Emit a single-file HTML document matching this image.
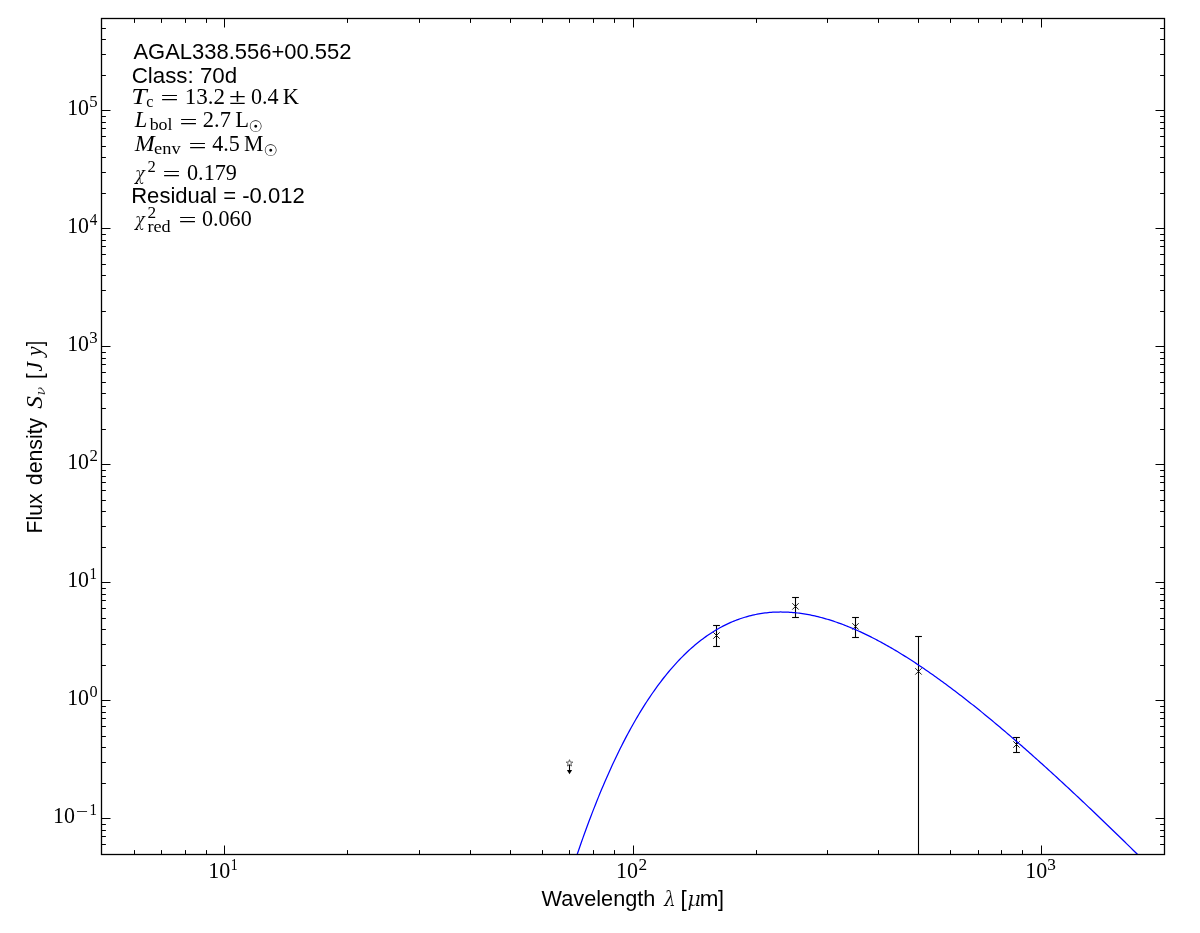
<!DOCTYPE html>
<html lang="en"><head><meta charset="utf-8"><title>AGAL338.556+00.552 SED</title>
<style>html,body{margin:0;padding:0;background:#fff}svg{display:block;will-change:transform}</style></head>
<body>
<svg width="1200" height="933" viewBox="0 0 1200 933">
<rect x="0" y="0" width="1200" height="933" fill="#fff"/>
<defs><clipPath id="ax"><rect x="101.5" y="18.5" width="1063.0" height="836.0"/></clipPath></defs>
<g stroke="#000"><line x1="716.50" y1="625.5" x2="716.50" y2="646.5" stroke-width="1.1"/><line x1="713.10" y1="625.5" x2="719.90" y2="625.5" stroke-width="1.1"/><line x1="713.10" y1="646.5" x2="719.90" y2="646.5" stroke-width="1.1"/><path d="M713.30,632.30L719.70,638.70M713.30,638.70L719.70,632.30" stroke-width="0.9" fill="none"/><line x1="795.50" y1="597.5" x2="795.50" y2="617.5" stroke-width="1.1"/><line x1="792.10" y1="597.5" x2="798.90" y2="597.5" stroke-width="1.1"/><line x1="792.10" y1="617.5" x2="798.90" y2="617.5" stroke-width="1.1"/><path d="M792.30,603.20L798.70,609.60M792.30,609.60L798.70,603.20" stroke-width="0.9" fill="none"/><line x1="855.50" y1="617.5" x2="855.50" y2="637.5" stroke-width="1.1"/><line x1="852.10" y1="617.5" x2="858.90" y2="617.5" stroke-width="1.1"/><line x1="852.10" y1="637.5" x2="858.90" y2="637.5" stroke-width="1.1"/><path d="M852.30,623.20L858.70,629.60M852.30,629.60L858.70,623.20" stroke-width="0.9" fill="none"/><line x1="918.50" y1="636.5" x2="918.50" y2="854.5" stroke-width="1.1"/><line x1="915.10" y1="636.5" x2="921.90" y2="636.5" stroke-width="1.1"/><path d="M915.30,668.20L921.70,674.60M915.30,674.60L921.70,668.20" stroke-width="0.9" fill="none"/><line x1="1016.50" y1="737.5" x2="1016.50" y2="752.5" stroke-width="1.1"/><line x1="1013.10" y1="737.5" x2="1019.90" y2="737.5" stroke-width="1.1"/><line x1="1013.10" y1="752.5" x2="1019.90" y2="752.5" stroke-width="1.1"/><path d="M1013.30,741.30L1019.70,747.70M1013.30,747.70L1019.70,741.30" stroke-width="0.9" fill="none"/></g>
<polyline clip-path="url(#ax)" points="542.37,972.95 543.93,966.92 545.48,960.97 547.04,955.09 548.60,949.27 550.15,943.53 551.71,937.86 553.27,932.26 554.83,926.72 556.38,921.26 557.94,915.86 559.50,910.52 561.05,905.25 562.61,900.05 564.17,894.91 565.72,889.84 567.28,884.83 568.84,879.88 570.40,875.00 571.95,870.18 573.51,865.41 575.07,860.71 576.62,856.07 578.18,851.49 579.74,846.97 581.29,842.51 582.85,838.10 584.41,833.76 585.97,829.47 587.52,825.23 589.08,821.06 590.64,816.93 592.19,812.87 593.75,808.86 595.31,804.90 596.86,800.99 598.42,797.14 599.98,793.35 601.54,789.60 603.09,785.91 604.65,782.26 606.21,778.67 607.76,775.13 609.32,771.64 610.88,768.20 612.43,764.80 613.99,761.46 615.55,758.17 617.11,754.92 618.66,751.72 620.22,748.56 621.78,745.46 623.33,742.40 624.89,739.38 626.45,736.41 628.00,733.49 629.56,730.61 631.12,727.77 632.68,724.98 634.23,722.23 635.79,719.52 637.35,716.86 638.90,714.24 640.46,711.66 642.02,709.12 643.57,706.63 645.13,704.17 646.69,701.76 648.25,699.38 649.80,697.04 651.36,694.75 652.92,692.49 654.47,690.27 656.03,688.09 657.59,685.95 659.14,683.84 660.70,681.78 662.26,679.75 663.82,677.75 665.37,675.79 666.93,673.87 668.49,671.99 670.04,670.14 671.60,668.32 673.16,666.54 674.71,664.79 676.27,663.08 677.83,661.40 679.39,659.76 680.94,658.14 682.50,656.57 684.06,655.02 685.61,653.50 687.17,652.02 688.73,650.57 690.28,649.15 691.84,647.76 693.40,646.41 694.96,645.08 696.51,643.78 698.07,642.52 699.63,641.28 701.18,640.08 702.74,638.90 704.30,637.75 705.85,636.63 707.41,635.54 708.97,634.48 710.53,633.44 712.08,632.43 713.64,631.45 715.20,630.50 716.75,629.57 718.31,628.68 719.87,627.80 721.42,626.96 722.98,626.14 724.54,625.34 726.10,624.57 727.65,623.83 729.21,623.11 730.77,622.41 732.32,621.74 733.88,621.10 735.44,620.48 736.99,619.88 738.55,619.31 740.11,618.76 741.67,618.23 743.22,617.73 744.78,617.24 746.34,616.79 747.89,616.35 749.45,615.93 751.01,615.54 752.56,615.17 754.12,614.82 755.68,614.50 757.24,614.19 758.79,613.90 760.35,613.64 761.91,613.39 763.46,613.17 765.02,612.97 766.58,612.78 768.13,612.62 769.69,612.47 771.25,612.35 772.81,612.24 774.36,612.15 775.92,612.09 777.48,612.04 779.03,612.01 780.59,611.99 782.15,612.00 783.70,612.02 785.26,612.06 786.82,612.12 788.37,612.19 789.93,612.29 791.49,612.40 793.05,612.52 794.60,612.67 796.16,612.83 797.72,613.00 799.27,613.19 800.83,613.40 802.39,613.63 803.94,613.87 805.50,614.12 807.06,614.39 808.62,614.68 810.17,614.98 811.73,615.29 813.29,615.62 814.84,615.97 816.40,616.33 817.96,616.70 819.51,617.09 821.07,617.49 822.63,617.91 824.19,618.34 825.74,618.78 827.30,619.24 828.86,619.71 830.41,620.19 831.97,620.69 833.53,621.19 835.08,621.72 836.64,622.25 838.20,622.80 839.76,623.36 841.31,623.93 842.87,624.51 844.43,625.10 845.98,625.71 847.54,626.33 849.10,626.96 850.65,627.60 852.21,628.25 853.77,628.92 855.33,629.59 856.88,630.28 858.44,630.98 860.00,631.68 861.55,632.40 863.11,633.13 864.67,633.87 866.22,634.62 867.78,635.38 869.34,636.15 870.90,636.93 872.45,637.71 874.01,638.51 875.57,639.32 877.12,640.14 878.68,640.97 880.24,641.80 881.79,642.65 883.35,643.50 884.91,644.37 886.47,645.24 888.02,646.12 889.58,647.01 891.14,647.91 892.69,648.81 894.25,649.73 895.81,650.65 897.36,651.59 898.92,652.53 900.48,653.47 902.04,654.43 903.59,655.39 905.15,656.36 906.71,657.34 908.26,658.33 909.82,659.32 911.38,660.33 912.93,661.34 914.49,662.35 916.05,663.37 917.61,664.40 919.16,665.44 920.72,666.49 922.28,667.54 923.83,668.60 925.39,669.66 926.95,670.73 928.50,671.81 930.06,672.89 931.62,673.98 933.18,675.08 934.73,676.19 936.29,677.29 937.85,678.41 939.40,679.53 940.96,680.66 942.52,681.79 944.07,682.93 945.63,684.08 947.19,685.23 948.75,686.38 950.30,687.55 951.86,688.71 953.42,689.89 954.97,691.07 956.53,692.25 958.09,693.44 959.64,694.63 961.20,695.83 962.76,697.04 964.32,698.25 965.87,699.46 967.43,700.68 968.99,701.91 970.54,703.14 972.10,704.37 973.66,705.61 975.21,706.85 976.77,708.10 978.33,709.35 979.89,710.61 981.44,711.87 983.00,713.14 984.56,714.41 986.11,715.68 987.67,716.96 989.23,718.24 990.78,719.53 992.34,720.82 993.90,722.12 995.46,723.42 997.01,724.72 998.57,726.03 1000.13,727.34 1001.68,728.66 1003.24,729.97 1004.80,731.30 1006.35,732.62 1007.91,733.95 1009.47,735.29 1011.03,736.63 1012.58,737.97 1014.14,739.31 1015.70,740.66 1017.25,742.01 1018.81,743.37 1020.37,744.72 1021.92,746.09 1023.48,747.45 1025.04,748.82 1026.60,750.19 1028.15,751.57 1029.71,752.94 1031.27,754.32 1032.82,755.71 1034.38,757.10 1035.94,758.49 1037.49,759.88 1039.05,761.28 1040.61,762.67 1042.17,764.08 1043.72,765.48 1045.28,766.89 1046.84,768.30 1048.39,769.71 1049.95,771.13 1051.51,772.55 1053.06,773.97 1054.62,775.39 1056.18,776.82 1057.74,778.25 1059.29,779.68 1060.85,781.11 1062.41,782.55 1063.96,783.99 1065.52,785.43 1067.08,786.88 1068.63,788.32 1070.19,789.77 1071.75,791.22 1073.30,792.68 1074.86,794.13 1076.42,795.59 1077.98,797.05 1079.53,798.52 1081.09,799.98 1082.65,801.45 1084.20,802.92 1085.76,804.39 1087.32,805.86 1088.87,807.34 1090.43,808.82 1091.99,810.30 1093.55,811.78 1095.10,813.26 1096.66,814.75 1098.22,816.24 1099.77,817.73 1101.33,819.22 1102.89,820.71 1104.44,822.21 1106.00,823.71 1107.56,825.20 1109.12,826.71 1110.67,828.21 1112.23,829.71 1113.79,831.22 1115.34,832.73 1116.90,834.24 1118.46,835.75 1120.01,837.26 1121.57,838.78 1123.13,840.30 1124.69,841.81 1126.24,843.33 1127.80,844.86 1129.36,846.38 1130.91,847.90 1132.47,849.43 1134.03,850.96 1135.58,852.49 1137.14,854.02 1138.70,855.55 1140.26,857.09 1141.81,858.62 1143.37,860.16 1144.93,861.70 1146.48,863.24 1148.04,864.78 1149.60,866.32 1151.15,867.86 1152.71,869.41 1154.27,870.96 1155.83,872.51 1157.38,874.05 1158.94,875.61 1160.50,877.16 1162.05,878.71 1163.61,880.27" fill="none" stroke="#0000ff" stroke-width="1.25" stroke-linejoin="round"/>
<line x1="569.50" y1="763.2" x2="569.50" y2="771" stroke="#000" stroke-width="1.1"/>
<polygon points="566.90,770 572.10,770 569.50,774.2" fill="#000"/>
<polygon points="569.50,759.70 570.32,762.07 572.83,762.12 570.83,763.63 571.56,766.03 569.50,764.60 567.44,766.03 568.17,763.63 566.17,762.12 568.68,762.07" fill="#fff" stroke="#5a5a5a" stroke-width="0.95"/>
<rect x="101.5" y="18.5" width="1063.0" height="836.0" fill="none" stroke="#000" stroke-width="1.3"/>
<path d="M101.50,854.5v-4.4M101.50,18.5v4.4M134.50,854.5v-4.4M134.50,18.5v4.4M161.50,854.5v-4.4M161.50,18.5v4.4M185.50,854.5v-4.4M185.50,18.5v4.4M206.50,854.5v-4.4M206.50,18.5v4.4M224.50,854.5v-9.0M224.50,18.5v9.0M347.50,854.5v-4.4M347.50,18.5v4.4M419.50,854.5v-4.4M419.50,18.5v4.4M470.50,854.5v-4.4M470.50,18.5v4.4M510.50,854.5v-4.4M510.50,18.5v4.4M542.50,854.5v-4.4M542.50,18.5v4.4M569.50,854.5v-4.4M569.50,18.5v4.4M593.50,854.5v-4.4M593.50,18.5v4.4M614.50,854.5v-4.4M614.50,18.5v4.4M633.50,854.5v-9.0M633.50,18.5v9.0M756.50,854.5v-4.4M756.50,18.5v4.4M827.50,854.5v-4.4M827.50,18.5v4.4M878.50,854.5v-4.4M878.50,18.5v4.4M918.50,854.5v-4.4M918.50,18.5v4.4M950.50,854.5v-4.4M950.50,18.5v4.4M978.50,854.5v-4.4M978.50,18.5v4.4M1001.50,854.5v-4.4M1001.50,18.5v4.4M1022.50,854.5v-4.4M1022.50,18.5v4.4M1041.50,854.5v-9.0M1041.50,18.5v9.0M1164.50,854.5v-4.4M1164.50,18.5v4.4M101.5,854.50h4.4M1164.5,854.50h-4.4M101.5,844.50h4.4M1164.5,844.50h-4.4M101.5,836.50h4.4M1164.5,836.50h-4.4M101.5,830.50h4.4M1164.5,830.50h-4.4M101.5,824.50h4.4M1164.5,824.50h-4.4M101.5,818.50h9.0M1164.5,818.50h-9.0M101.5,783.50h4.4M1164.5,783.50h-4.4M101.5,762.50h4.4M1164.5,762.50h-4.4M101.5,747.50h4.4M1164.5,747.50h-4.4M101.5,736.50h4.4M1164.5,736.50h-4.4M101.5,726.50h4.4M1164.5,726.50h-4.4M101.5,718.50h4.4M1164.5,718.50h-4.4M101.5,712.50h4.4M1164.5,712.50h-4.4M101.5,706.50h4.4M1164.5,706.50h-4.4M101.5,700.50h9.0M1164.5,700.50h-9.0M101.5,665.50h4.4M1164.5,665.50h-4.4M101.5,644.50h4.4M1164.5,644.50h-4.4M101.5,629.50h4.4M1164.5,629.50h-4.4M101.5,618.50h4.4M1164.5,618.50h-4.4M101.5,608.50h4.4M1164.5,608.50h-4.4M101.5,600.50h4.4M1164.5,600.50h-4.4M101.5,594.50h4.4M1164.5,594.50h-4.4M101.5,588.50h4.4M1164.5,588.50h-4.4M101.5,582.50h9.0M1164.5,582.50h-9.0M101.5,547.50h4.4M1164.5,547.50h-4.4M101.5,526.50h4.4M1164.5,526.50h-4.4M101.5,511.50h4.4M1164.5,511.50h-4.4M101.5,500.50h4.4M1164.5,500.50h-4.4M101.5,490.50h4.4M1164.5,490.50h-4.4M101.5,482.50h4.4M1164.5,482.50h-4.4M101.5,476.50h4.4M1164.5,476.50h-4.4M101.5,470.50h4.4M1164.5,470.50h-4.4M101.5,464.50h9.0M1164.5,464.50h-9.0M101.5,429.50h4.4M1164.5,429.50h-4.4M101.5,408.50h4.4M1164.5,408.50h-4.4M101.5,393.50h4.4M1164.5,393.50h-4.4M101.5,382.50h4.4M1164.5,382.50h-4.4M101.5,372.50h4.4M1164.5,372.50h-4.4M101.5,364.50h4.4M1164.5,364.50h-4.4M101.5,358.50h4.4M1164.5,358.50h-4.4M101.5,352.50h4.4M1164.5,352.50h-4.4M101.5,346.50h9.0M1164.5,346.50h-9.0M101.5,311.50h4.4M1164.5,311.50h-4.4M101.5,290.50h4.4M1164.5,290.50h-4.4M101.5,275.50h4.4M1164.5,275.50h-4.4M101.5,264.50h4.4M1164.5,264.50h-4.4M101.5,254.50h4.4M1164.5,254.50h-4.4M101.5,246.50h4.4M1164.5,246.50h-4.4M101.5,240.50h4.4M1164.5,240.50h-4.4M101.5,234.50h4.4M1164.5,234.50h-4.4M101.5,228.50h9.0M1164.5,228.50h-9.0M101.5,193.50h4.4M1164.5,193.50h-4.4M101.5,172.50h4.4M1164.5,172.50h-4.4M101.5,157.50h4.4M1164.5,157.50h-4.4M101.5,146.50h4.4M1164.5,146.50h-4.4M101.5,136.50h4.4M1164.5,136.50h-4.4M101.5,128.50h4.4M1164.5,128.50h-4.4M101.5,122.50h4.4M1164.5,122.50h-4.4M101.5,116.50h4.4M1164.5,116.50h-4.4M101.5,110.50h9.0M1164.5,110.50h-9.0M101.5,75.50h4.4M1164.5,75.50h-4.4M101.5,54.50h4.4M1164.5,54.50h-4.4M101.5,39.50h4.4M1164.5,39.50h-4.4M101.5,28.50h4.4M1164.5,28.50h-4.4M101.5,18.50h4.4M1164.5,18.50h-4.4" stroke="#000" stroke-width="1" fill="none"/>
<g fill="#000">
<text transform="translate(133.40,59.00) scale(0.990,1)" font-family="'Liberation Sans', sans-serif" font-size="22.2">AGAL338.556+00.552</text>
<text transform="translate(131.65,83.00) scale(1.007,1)" font-family="'Liberation Sans', sans-serif" font-size="22.2">Class: 70d</text>
<text transform="translate(131.27,104.00) scale(1.249,1)" font-family="'Liberation Serif', serif" font-size="22.2" font-style="italic">T</text>
<text transform="translate(146.24,107.00) scale(0.968,1)" font-family="'Liberation Serif', serif" font-size="16.8">c</text>
<text transform="translate(160.50,105.11) scale(1.441,0.9)" font-family="'Liberation Serif', serif" font-size="22.2">=</text>
<text transform="translate(184.70,104.00) scale(1.040,1)" font-family="'Liberation Serif', serif" font-size="22.2">13.2</text>
<text transform="translate(229.03,104.00) scale(1.395,1)" font-family="'Liberation Serif', serif" font-size="22.2">±</text>
<text transform="translate(251.01,104.00) scale(0.996,1)" font-family="'Liberation Serif', serif" font-size="22.2">0.4</text>
<text transform="translate(282.85,104.00) scale(1.012,1)" font-family="'Liberation Serif', serif" font-size="22.2">K</text>
<text transform="translate(134.65,127.00) scale(1.017,1)" font-family="'Liberation Serif', serif" font-size="22.2" font-style="italic">L</text>
<text transform="translate(149.70,130.00) scale(1.063,1)" font-family="'Liberation Serif', serif" font-size="16.8">bol</text>
<text transform="translate(179.50,128.91) scale(1.441,0.9)" font-family="'Liberation Serif', serif" font-size="22.2">=</text>
<text transform="translate(202.80,127.00) scale(1.011,1)" font-family="'Liberation Serif', serif" font-size="22.2">2.7</text>
<text transform="translate(235.35,127.00) scale(1.013,1)" font-family="'Liberation Serif', serif" font-size="22.2">L</text>
<text transform="translate(248.55,132.10)" font-family="'DejaVu Sans', sans-serif" font-size="16.0">☉</text>
<text transform="translate(134.67,151.00) scale(1.079,1)" font-family="'Liberation Serif', serif" font-size="22.2" font-style="italic">M</text>
<text transform="translate(154.12,154.00) scale(1.096,1)" font-family="'Liberation Serif', serif" font-size="16.8">env</text>
<text transform="translate(188.50,152.91) scale(1.441,0.9)" font-family="'Liberation Serif', serif" font-size="22.2">=</text>
<text transform="translate(212.16,151.00) scale(0.992,1)" font-family="'Liberation Serif', serif" font-size="22.2">4.5</text>
<text transform="translate(243.91,151.00) scale(0.983,1)" font-family="'Liberation Serif', serif" font-size="22.2">M</text>
<text transform="translate(263.55,156.10)" font-family="'DejaVu Sans', sans-serif" font-size="16.0">☉</text>
<text transform="translate(135.02,180.00) scale(0.880,1)" font-family="'DejaVu Serif', 'Liberation Serif', serif" font-size="18.5" font-style="italic" stroke="#fff" stroke-width="0.2">χ</text>
<text transform="translate(147.48,172.00) scale(0.988,1)" font-family="'Liberation Serif', serif" font-size="16.8">2</text>
<text transform="translate(162.50,180.91) scale(1.441,0.9)" font-family="'Liberation Serif', serif" font-size="22.2">=</text>
<text transform="translate(187.01,180.00)" font-family="'Liberation Serif', serif" font-size="22.2">0.179</text>
<text transform="translate(131.18,203.00) scale(0.994,1)" font-family="'Liberation Sans', sans-serif" font-size="22.2">Residual = -0.012</text>
<text transform="translate(135.02,226.00) scale(0.880,1)" font-family="'DejaVu Serif', 'Liberation Serif', serif" font-size="18.5" font-style="italic" stroke="#fff" stroke-width="0.2">χ</text>
<text transform="translate(147.46,218.00) scale(1.030,1)" font-family="'Liberation Serif', serif" font-size="16.8">2</text>
<text transform="translate(147.42,232.00) scale(1.085,1)" font-family="'Liberation Serif', serif" font-size="16.8">red</text>
<text transform="translate(178.50,227.01) scale(1.441,0.9)" font-family="'Liberation Serif', serif" font-size="22.2">=</text>
<text transform="translate(202.01,226.00) scale(0.995,1)" font-family="'Liberation Serif', serif" font-size="22.2">0.060</text>
<text transform="translate(541.60,906.00) scale(0.978,1)" font-family="'Liberation Sans', sans-serif" font-size="22.2">Wavelength</text>
<text transform="translate(663.88,906.00) scale(0.890,1)" font-family="'DejaVu Serif', 'Liberation Serif', serif" font-size="21.0" font-style="italic" stroke="#fff" stroke-width="0.2">λ</text>
<text transform="translate(680.60,906.00) scale(1.009,1)" font-family="'Liberation Sans', sans-serif" font-size="22.2">[</text>
<text transform="translate(687.14,906.00) scale(1.055,1)" font-family="'DejaVu Serif', 'Liberation Serif', serif" font-size="20.0" font-style="italic" stroke="#fff" stroke-width="0.2">μ</text>
<text transform="translate(699.70,906.00) scale(1.009,1)" font-family="'Liberation Sans', sans-serif" font-size="22.2">m</text>
<text transform="translate(718.10,906.00) scale(0.968,1)" font-family="'Liberation Sans', sans-serif" font-size="22.2">]</text>
<text transform="translate(208.18,878.00) scale(0.991,1)" font-family="'Liberation Serif', serif" font-size="22.2">10</text>
<text transform="translate(230.72,869.90) scale(0.825,1)" font-family="'Liberation Serif', serif" font-size="16.8">1</text>
<text transform="translate(616.08,878.00) scale(0.991,1)" font-family="'Liberation Serif', serif" font-size="22.2">10</text>
<text transform="translate(638.46,869.90) scale(1.030,1)" font-family="'Liberation Serif', serif" font-size="16.8">2</text>
<text transform="translate(1025.18,878.00) scale(0.991,1)" font-family="'Liberation Serif', serif" font-size="22.2">10</text>
<text transform="translate(1047.29,869.90) scale(1.030,1)" font-family="'Liberation Serif', serif" font-size="16.8">3</text>
<text transform="translate(53.09,823.00) scale(0.989,1)" font-family="'Liberation Serif', serif" font-size="22.2">10</text>
<text transform="translate(75.78,817.00) scale(1.295,1)" font-family="'Liberation Serif', serif" font-size="16.8">−</text>
<text transform="translate(89.53,814.90) scale(0.889,1)" font-family="'Liberation Serif', serif" font-size="16.8">1</text>
<text transform="translate(67.19,705.00) scale(0.984,1)" font-family="'Liberation Serif', serif" font-size="22.2">10</text>
<text transform="translate(89.49,696.90) scale(0.966,1)" font-family="'Liberation Serif', serif" font-size="16.8">0</text>
<text transform="translate(67.19,587.00) scale(0.984,1)" font-family="'Liberation Serif', serif" font-size="22.2">10</text>
<text transform="translate(89.53,578.90) scale(0.889,1)" font-family="'Liberation Serif', serif" font-size="16.8">1</text>
<text transform="translate(67.19,469.00) scale(0.984,1)" font-family="'Liberation Serif', serif" font-size="22.2">10</text>
<text transform="translate(89.47,460.90)" font-family="'Liberation Serif', serif" font-size="16.8">2</text>
<text transform="translate(67.19,351.00) scale(0.984,1)" font-family="'Liberation Serif', serif" font-size="22.2">10</text>
<text transform="translate(89.21,342.90)" font-family="'Liberation Serif', serif" font-size="16.8">3</text>
<text transform="translate(67.19,233.00) scale(0.984,1)" font-family="'Liberation Serif', serif" font-size="22.2">10</text>
<text transform="translate(89.76,224.90) scale(0.902,1)" font-family="'Liberation Serif', serif" font-size="16.8">4</text>
<text transform="translate(67.19,115.00) scale(0.984,1)" font-family="'Liberation Serif', serif" font-size="22.2">10</text>
<text transform="translate(89.21,106.90)" font-family="'Liberation Serif', serif" font-size="16.8">5</text>
</g>
<g fill="#000" transform="translate(42.3,531.8) rotate(-90)">
<text transform="translate(-1.65,0.00) scale(0.953,1)" font-family="'Liberation Sans', sans-serif" font-size="22.2">Flux</text>
<text transform="translate(46.63,0.00) scale(0.959,1)" font-family="'Liberation Sans', sans-serif" font-size="22.2">density</text>
<text transform="translate(123.10,0.00) scale(1.144,1)" font-family="'Liberation Serif', serif" font-size="22.2" font-style="italic">S</text>
<text transform="translate(136.19,2.70) scale(1.098,1)" font-family="'DejaVu Serif', 'Liberation Serif', serif" font-size="13.2" font-style="italic" stroke="#fff" stroke-width="0.2">ν</text>
<text transform="translate(152.71,0.00) scale(0.927,1)" font-family="'Liberation Sans', sans-serif" font-size="22.2">[</text>
<text transform="translate(160.20,0.00) scale(0.976,1)" font-family="'Liberation Serif', serif" font-size="22.2" font-style="italic">J</text>
<text transform="translate(175.72,0.00) scale(0.972,1)" font-family="'Liberation Serif', serif" font-size="22.2" font-style="italic">y</text>
<text transform="translate(185.50,0.00) scale(0.885,1)" font-family="'Liberation Sans', sans-serif" font-size="22.2">]</text>
</g>
</svg>
</body></html>
